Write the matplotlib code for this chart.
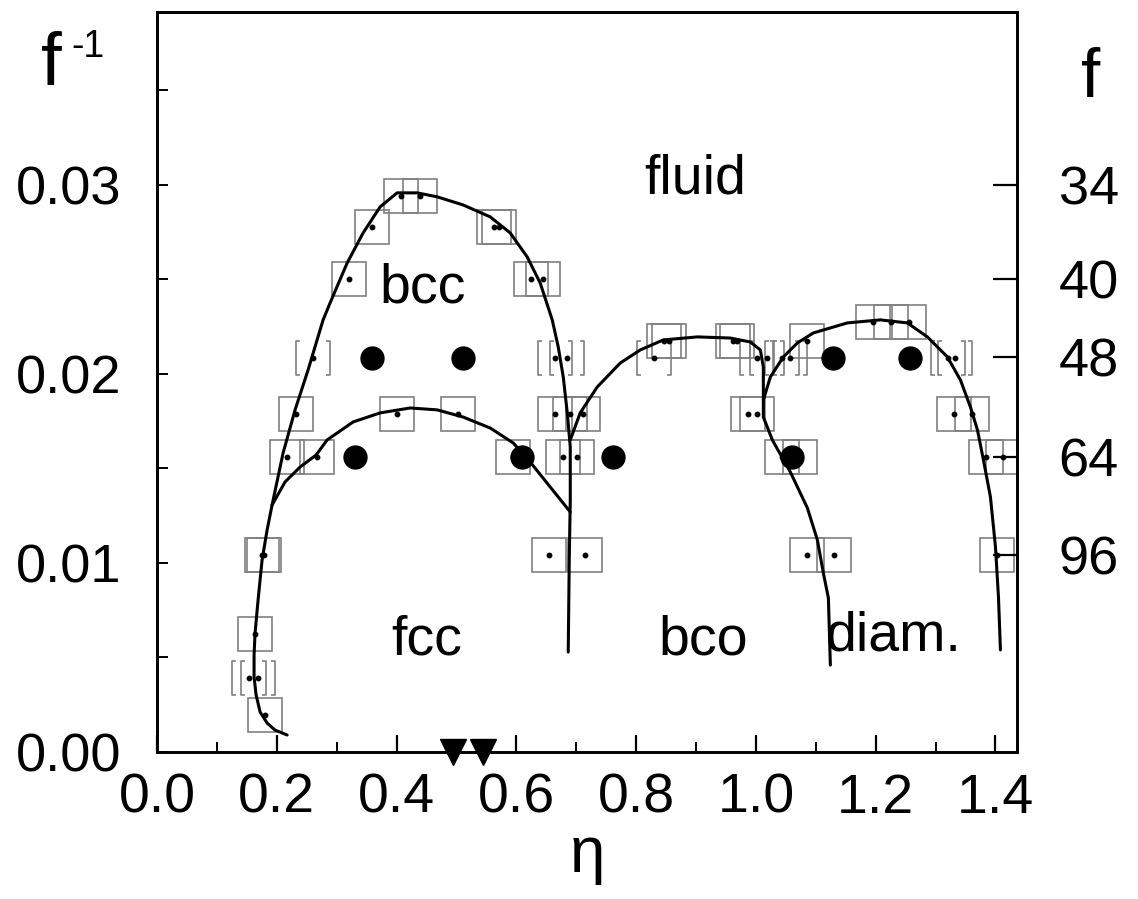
import numpy as np
import matplotlib
matplotlib.use("Agg")
import matplotlib.pyplot as plt
from matplotlib.path import Path
from matplotlib import font_manager as fm

# ---------------- data (eta, 1/f) ----------------
# phase boundaries
bcc_eta = [0.2172, 0.1971, 0.1838, 0.1721, 0.1654, 0.1620, 0.1620, 0.1637, 0.1687, 0.1754,
           0.1838, 0.1921, 0.2105, 0.2305, 0.2522, 0.2773, 0.2890, 0.3174, 0.3441, 0.3725,
           0.4009, 0.4343, 0.4677, 0.5111, 0.5563, 0.5897, 0.6181, 0.6398, 0.6599, 0.6699,
           0.6783, 0.6850, 0.6900, 0.6900, 0.6883, 0.6866]
bcc_finv = [0.0009, 0.00116, 0.00153, 0.00212, 0.00302, 0.00397, 0.00513, 0.00630, 0.00804, 0.01016,
            0.01175, 0.01307, 0.01582, 0.01810, 0.02021, 0.02286, 0.02376, 0.02587, 0.02746, 0.02884,
            0.02958, 0.02958, 0.02937, 0.02894, 0.02831, 0.02746, 0.02619, 0.02481, 0.02286, 0.02143,
            0.01984, 0.01794, 0.01614, 0.01333, 0.01016, 0.00529]

fcc_eta = [0.1921, 0.2138, 0.2389, 0.2656, 0.2840, 0.3274, 0.3725, 0.4227, 0.4677, 0.5111,
           0.5563, 0.5947, 0.6231, 0.6565, 0.6900]
fcc_finv = [0.01307, 0.01429, 0.01508, 0.01571, 0.01651, 0.01746, 0.01794, 0.01820, 0.01810, 0.01772,
            0.01714, 0.01635, 0.01534, 0.01402, 0.01270]

bco_eta = [0.6900, 0.7066, 0.7350, 0.7735, 0.8069, 0.8453, 0.9021, 0.9572, 0.9907, 1.0074,
           1.0124, 1.0124, 1.0124, 1.0274, 1.0575, 1.0859, 1.1026, 1.1126, 1.1210, 1.1243]
bco_finv = [0.01651, 0.01794, 0.01931, 0.02058, 0.02127, 0.02180, 0.02196, 0.02190, 0.02169, 0.02127,
            0.02037, 0.01899, 0.01772, 0.01651, 0.01481, 0.01291, 0.01122, 0.00947, 0.00815, 0.00460]

diam_eta = [1.0124, 1.0241, 1.0458, 1.0692, 1.0959, 1.1527, 1.2078, 1.2529, 1.2863, 1.3197,
            1.3415, 1.3582, 1.3699, 1.3799, 1.3916, 1.4000, 1.4050, 1.4083]
diam_finv = [0.01862, 0.01984, 0.02090, 0.02164, 0.02217, 0.02270, 0.02286, 0.02270, 0.02196, 0.02090,
             0.01968, 0.01825, 0.01704, 0.01545, 0.01349, 0.01085, 0.00820, 0.00540]

# simulation points shown as open squares
sq_eta = [0.408, 0.439,
          0.359, 0.563, 0.571,
          0.321, 0.625, 0.645,
          1.196, 1.225, 1.255,
          0.847, 0.855, 0.961, 0.969, 1.086,
          0.232, 0.401, 0.503, 0.665, 0.690, 0.712, 0.986, 1.002, 1.330, 1.361,
          0.217, 0.267, 0.595, 0.678, 0.702, 1.044, 1.073, 1.385, 1.412,
          0.175, 0.178, 0.655, 0.715, 1.086, 1.131, 1.402,
          0.164,
          0.180]
sq_finv = [1/34, 1/34,
           1/36, 1/36, 1/36,
           1/40, 1/40, 1/40,
           1/44, 1/44, 1/44,
           1/46, 1/46, 1/46, 1/46, 1/46,
           1/56, 1/56, 1/56, 1/56, 1/56, 1/56, 1/56, 1/56, 1/56, 1/56,
           1/64, 1/64, 1/64, 1/64, 1/64, 1/64, 1/64, 1/64, 1/64,
           1/96, 1/96, 1/96, 1/96, 1/96, 1/96, 1/96,
           1/160,
           1/512]

# points shown as open brackets
br_eta = [0.261, 0.665, 0.685, 0.830, 1.002, 1.019, 1.044, 1.057, 1.320, 1.333,
          0.154, 0.169]
br_finv = [1/48] * 10 + [1/256] * 2

# filled circles
circ_eta = [0.331, 0.610, 0.359, 0.511, 0.762, 1.061, 1.128, 1.258]
circ_finv = [1/64, 1/64, 1/48, 1/48, 1/64, 1/64, 1/48, 1/48]

# triangles on the eta axis
tri_eta = [0.495, 0.545]

# phase labels
phase_names = ["fluid", "bcc", "fcc", "bco", "diam."]
phase_eta = [0.899, 0.444, 0.451, 0.912, 1.230]
phase_finv = [0.0303, 0.0245, 0.0059, 0.0059, 0.0061]

# axis ticks
x_major = [0.0, 0.2, 0.4, 0.6, 0.8, 1.0, 1.2, 1.4]
x_labels = ["0.0", "0.2", "0.4", "0.6", "0.8", "1.0", "1.2", "1.4"]
x_minor = [0.1, 0.3, 0.5, 0.7, 0.9, 1.1, 1.3]
y_major = [0.0, 0.01, 0.02, 0.03]
y_labels = ["0.00", "0.01", "0.02", "0.03"]
y_minor = [0.005, 0.015, 0.025, 0.035]
f_pos = [0.0300, 0.0250, 0.0209, 0.0156, 0.0104]
f_labels = ["34", "40", "48", "64", "96"]

# ---------------- fonts ----------------
names = {f.name for f in fm.fontManager.ttflist}
regular = "Liberation Sans"
narrow = "Liberation Sans Narrow" if "Liberation Sans Narrow" in names else "Liberation Sans"
plt.rcParams["font.family"] = [regular, "DejaVu Sans"]

# ---------------- figure ----------------
fig = plt.figure(figsize=(11.38, 8.99), dpi=100)
ax = fig.add_axes([0.1380, 0.1635, 0.7557, 0.8232])
ax.set_xlim(0, 1.436)
ax.set_ylim(0, 0.03915)

for s in ax.spines.values():
    s.set_linewidth(1.9)

# bracket marker
bverts = [(-0.75, 1), (-1, 1), (-1, -1), (-0.75, -1),
          (0.75, 1), (1, 1), (1, -1), (0.75, -1)]
bcodes = [Path.MOVETO, Path.LINETO, Path.LINETO, Path.LINETO,
          Path.MOVETO, Path.LINETO, Path.LINETO, Path.LINETO]
bracket = Path(bverts, bcodes)

grey = "#808080"
ax.plot(sq_eta, sq_finv, ls="none", marker="s", ms=25, mfc="none", mec=grey, mew=1.2, zorder=2)
ax.plot(br_eta, br_finv, ls="none", marker=bracket, ms=25, mfc="none", mec=grey, mew=1.2, zorder=2)
ax.plot(sq_eta + br_eta, sq_finv + br_finv, ls="none", marker="o", ms=3.2, color="black", zorder=4)

lw = 2.2
for ex, ey in [(bcc_eta, bcc_finv), (fcc_eta, fcc_finv), (bco_eta, bco_finv), (diam_eta, diam_finv)]:
    ax.plot(ex, ey, color="black", lw=lw, zorder=3, solid_capstyle="round", solid_joinstyle="round")

ax.plot(circ_eta, circ_finv, ls="none", marker="o", ms=16.5, color="black", zorder=5)
ax.plot(tri_eta, [0.0] * len(tri_eta), ls="none", marker="v", ms=19, color="black",
        zorder=6, clip_on=False)

for name, ex, ey in zip(phase_names, phase_eta, phase_finv):
    ax.text(ex, ey, name, fontsize=40, ha="center", va="center", zorder=6)

# ticks
ax.set_xticks(x_major)
ax.set_xticklabels(x_labels, fontfamily=narrow)
ax.set_xticks(x_minor, minor=True)
ax.set_yticks(y_major)
ax.set_yticklabels(y_labels)
ax.set_yticks(y_minor, minor=True)
ax.tick_params(axis="x", which="major", direction="in", length=12, width=1.6, labelsize=40, pad=15)
ax.tick_params(axis="x", which="minor", direction="in", length=7, width=1.4)
ax.tick_params(axis="y", which="both", direction="in", length=8, width=1.4, labelsize=39, pad=26)

ax2 = ax.twinx()
ax2.set_ylim(ax.get_ylim())
ax2.set_yticks(f_pos)
ax2.set_yticklabels(f_labels)
ax2.tick_params(axis="y", direction="in", length=17, width=1.6, labelsize=39, pad=30)
for s in ax2.spines.values():
    s.set_linewidth(1.9)

# axis titles
fig.text(0.045, 0.927, "f", fontsize=54, ha="center", va="center")
fig.text(0.077, 0.948, "-1", fontsize=27, ha="center", va="center")
fig.text(0.958, 0.912, "f", fontsize=50, ha="center", va="center")
fig.text(0.516, 0.049, "η", fontsize=46, ha="center", va="center")

fig.savefig("out.png", dpi=100)
